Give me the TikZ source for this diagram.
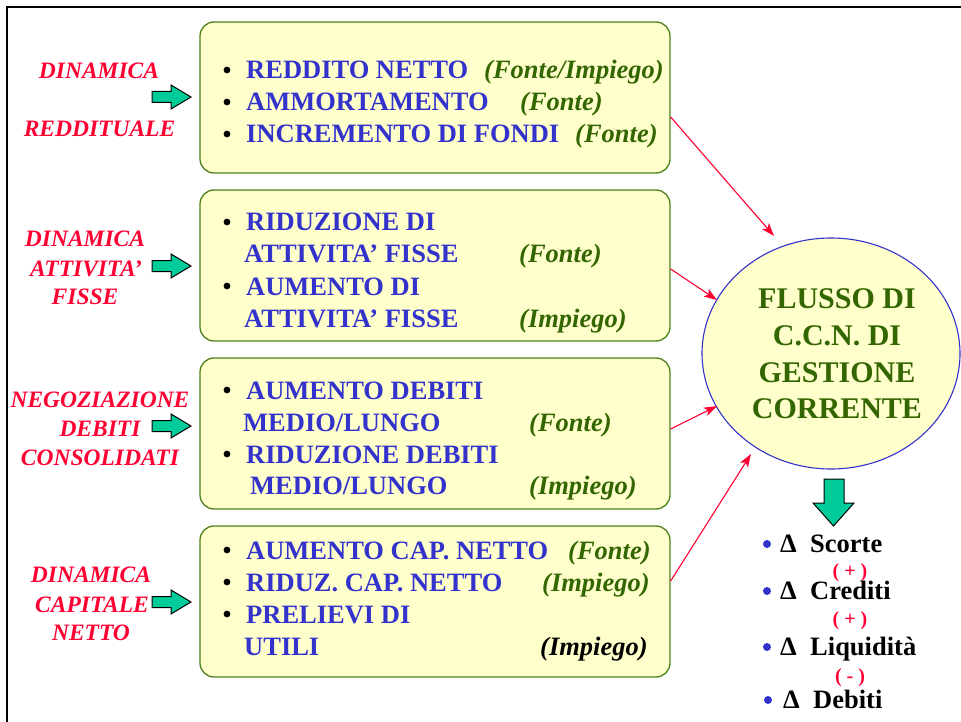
\documentclass[tikz,border=0pt]{standalone}
\usepackage{fontspec}
\setmainfont{Liberation Serif}
\usetikzlibrary{arrows.meta,shapes.geometric}
\definecolor{bluetxt}{HTML}{3333CC}
\definecolor{greentxt}{HTML}{336600}
\definecolor{redtxt}{HTML}{FF0033}
\definecolor{boxfill}{HTML}{FFFFCC}
\definecolor{boxline}{HTML}{4D7F1A}
\definecolor{arrowfill}{HTML}{00CC99}
\begin{document}
\begin{tikzpicture}[x=1pt,y=-1pt,
  box/.style={draw=boxline, line width=1.3pt, fill=boxfill, rounded corners=14pt, minimum width=470pt, minimum height=151pt, inner sep=0},
  ellbox/.style={ellipse, draw=bluetxt, line width=1.1pt, fill=boxfill, minimum width=258pt, minimum height=231pt, inner sep=0},
  bl/.style={font=\fontsize{26.5}{30}\selectfont\bfseries, text=bluetxt, inner sep=0, anchor=base west},
  gr/.style={font=\fontsize{26.5}{30}\selectfont\bfseries\itshape, text=greentxt, inner sep=0, anchor=base west},
  bk/.style={font=\fontsize{26.5}{30}\selectfont\bfseries\itshape, text=black, inner sep=0, anchor=base west},
  rd/.style={font=\fontsize{23.5}{28}\selectfont\bfseries\itshape, text=redtxt, inner sep=0, anchor=base},
  et/.style={font=\fontsize{30}{34}\selectfont\bfseries, text=greentxt, inner sep=0, anchor=base},
  lt/.style={font=\fontsize{26.5}{30}\selectfont\bfseries, text=black, inner sep=0, anchor=base west},
  sg/.style={font=\fontsize{20}{24}\selectfont\bfseries, text=redtxt, inner sep=0, anchor=base},
  garrow/.style={draw=black, line width=1pt, fill=arrowfill, line join=miter},
  redarr/.style={draw=redtxt, line width=1.1pt, -{Stealth[length=13pt,width=9pt,inset=3pt]}},
  dot/.style={fill=black},
  bdot/.style={fill=bluetxt}
]
\useasboundingbox (0,0) rectangle (961,722);
% frame
\draw[line width=2.6pt] (7,730) -- (7,7) -- (970,7);

% boxes
\node[box] (b1) at (435,97.5) {};
\node[box] (b2) at (435,265.5) {};
\node[box] (b3) at (435,433.5) {};
\node[box] (b4) at (435,601.5) {};

% ellipse
\node[ellbox] (E) at (831,353.5) {};
\node[et] (e1) at (837,308) {FLUSSO DI};
\node[et] (e2) at (837,345) {C.C.N. DI};
\node[et] (e3) at (837,382) {GESTIONE};
\node[et] (e4) at (837,418) {CORRENTE};

% bullets in boxes
\foreach \yy in {70,102,134,222,286,390,454,550,582,614}
  \fill[dot] (227,\yy) circle[radius=3.4pt];

% box 1
\node[bl] (t11) at (246,79) {REDDITO NETTO};
\node[gr] (g11) at (484,79) {(Fonte/Impiego)};
\node[bl] (t12) at (246,111) {AMMORTAMENTO};
\node[gr] (g12) at (520,111) {(Fonte)};
\node[bl] (t13) at (246,143) {INCREMENTO DI FONDI};
\node[gr] (g13) at (575,143) {(Fonte)};

% box 2
\node[bl] (t21) at (246,231) {RIDUZIONE DI};
\node[bl] (t22) at (244,262) {ATTIVITA’ FISSE};
\node[gr] (g22) at (519,262) {(Fonte)};
\node[bl] (t23) at (246,295) {AUMENTO DI};
\node[bl] (t24) at (244,327) {ATTIVITA’ FISSE};
\node[gr] (g24) at (519,327) {(Impiego)};

% box 3
\node[bl] (t31) at (246,399) {AUMENTO DEBITI};
\node[bl] (t32) at (243,431) {MEDIO/LUNGO};
\node[gr] (g32) at (529,431) {(Fonte)};
\node[bl] (t33) at (246,463) {RIDUZIONE DEBITI};
\node[bl] (t34) at (250,494) {MEDIO/LUNGO};
\node[gr] (g34) at (529,494) {(Impiego)};

% box 4
\node[bl] (t41) at (246,559) {AUMENTO CAP. NETTO};
\node[gr] (g41) at (568,559) {(Fonte)};
\node[bl] (t42) at (246,591) {RIDUZ. CAP. NETTO};
\node[gr] (g42) at (542,591) {(Impiego)};
\node[bl] (t43) at (246,623) {PRELIEVI DI};
\node[bl] (t44) at (244,655) {UTILI};
\node[bk] (g44) at (540,655) {(Impiego)};

% red labels
\node[rd] (r11) at (99,79) {DINAMICA};
\node[rd] (r12) at (99.5,137) {REDDITUALE};
\node[rd] (r21) at (85,247) {DINAMICA};
\node[rd] (r22) at (86,276) {ATTIVITA’};
\node[rd] (r23) at (85,304) {FISSE};
\node[rd] (r31) at (100,407) {NEGOZIAZIONE};
\node[rd] (r32) at (100,436) {DEBITI};
\node[rd] (r33) at (100,465) {CONSOLIDATI};
\node[rd] (r41) at (91,582) {DINAMICA};
\node[rd] (r42) at (92,612) {CAPITALE};
\node[rd] (r43) at (91,640) {NETTO};

% green right arrows
\foreach \cy in {97,266,426,602}
  \draw[garrow, shift={(0,\cy)}] (152,-5.5) -- (171,-5.5) -- (171,-12) -- (191,0) -- (171,12) -- (171,5.5) -- (152,5.5) -- cycle;

% red connectors
\coordinate (p1) at (774,236);
\coordinate (p2) at (717,300);
\coordinate (p3) at (717,406);
\coordinate (p4) at (751,454);
\draw[redarr] ([yshift=-19.5pt]b1.east) -- (p1);
\draw[redarr] ([yshift=-3.5pt]b2.east) -- (p2);
\draw[redarr] ([yshift=4.5pt]b3.east) -- (p3);
\draw[redarr] ([yshift=20.5pt]b4.east) -- (p4);

% down arrow
\draw[garrow] (824,479) -- (844,479) -- (844,503) -- (854,503) -- (833.5,526) -- (813,503) -- (824,503) -- cycle;

% bottom list
\foreach \yy in {544,591,647}
  \fill[bdot] (767,\yy) circle[radius=4pt];
\fill[bdot] (768,700) circle[radius=4pt];
\node[lt] (d1) at (780,552) {Δ};
\node[lt] (l1) at (810,552) {Scorte};
\node[sg] (s1) at (850,577) {( + )};
\node[lt] (d2) at (780,599) {Δ};
\node[lt] (l2) at (810,599) {Crediti};
\node[sg] (s2) at (850,625) {( + )};
\node[lt] (d3) at (780,655) {Δ};
\node[lt] (l3) at (810,655) {Liquidità};
\node[sg] (s3) at (850,682) {( - )};
\node[lt] (d4) at (783,708) {Δ};
\node[lt] (l4) at (813,708) {Debiti};
\end{tikzpicture}
\end{document}
